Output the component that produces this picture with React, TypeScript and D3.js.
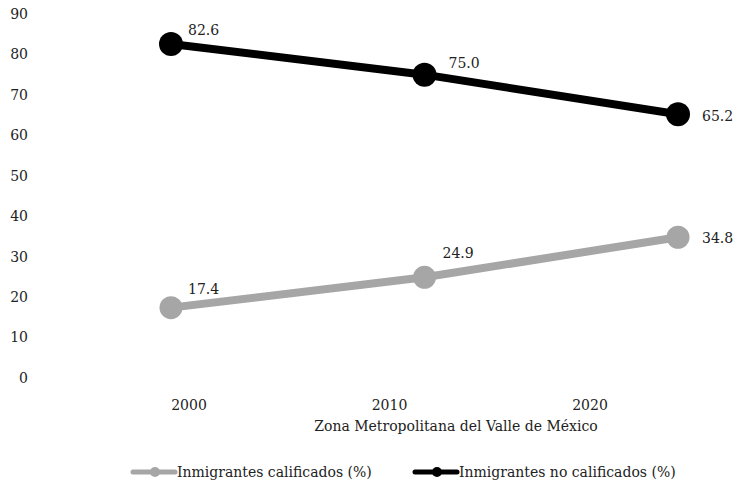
import React, { useRef, useEffect } from 'react';
import * as d3 from 'd3';

const years = ['2000', '2010', '2020'];
const calificados = [17.4, 24.9, 34.8];
const noCalificados = [82.6, 75.0, 65.2];
const yTicks = [0, 10, 20, 30, 40, 50, 60, 70, 80, 90];
const seriesNames = ['Inmigrantes calificados (%)', 'Inmigrantes no calificados (%)'];
const axisTitle = 'Zona Metropolitana del Valle de México';

const W = 735;
const H = 484;
const FONT = '"DejaVu Serif", "Liberation Serif", serif';

const App: React.FC = () => {
  const svgRef = useRef<SVGSVGElement>(null);

  useEffect(() => {
    if (!svgRef.current) return;
    const svg = d3.select(svgRef.current);
    svg.selectAll('*').remove();

    const y = d3.scaleLinear().domain([0, 90]).range([378, 14]);
    // points and category labels are not aligned in the original
    const xPts = d3.scalePoint<string>().domain(years).range([171, 678]);
    const xLbl = d3.scalePoint<string>().domain(years).range([189, 590]);

    // y tick labels
    svg
      .append('g')
      .selectAll('text')
      .data(yTicks)
      .join('text')
      .attr('x', 28)
      .attr('y', (d) => y(d))
      .attr('dy', '0.35em')
      .attr('text-anchor', 'end')
      .attr('font-family', FONT)
      .attr('font-size', 14)
      .attr('fill', '#222')
      .text((d) => d);

    // x category labels
    svg
      .append('g')
      .selectAll('text')
      .data(years)
      .join('text')
      .attr('x', (d) => xLbl(d)!)
      .attr('y', 410)
      .attr('text-anchor', 'middle')
      .attr('font-family', FONT)
      .attr('font-size', 14)
      .attr('fill', '#222')
      .text((d) => d);

    svg
      .append('text')
      .attr('x', 456)
      .attr('y', 431)
      .attr('text-anchor', 'middle')
      .attr('font-family', FONT)
      .attr('font-size', 14)
      .attr('fill', '#222')
      .text(axisTitle);

    // label offsets (dx, dy) were placed by hand in the original
    const series = [
      { values: calificados, color: '#a6a6a6', r: 11.5, offs: [[17, -19], [18, -24], [24, 1]] },
      { values: noCalificados, color: '#000000', r: 12, offs: [[17, -14], [24, -12], [24, 2]] },
    ];

    const line = d3
      .line<number>()
      .x((_, i) => xPts(years[i])!)
      .y((d) => y(d));

    series.forEach((s) => {
      const g = svg.append('g');
      g.append('path')
        .attr('d', line(s.values)!)
        .attr('fill', 'none')
        .attr('stroke', s.color)
        .attr('stroke-width', 8)
        .attr('stroke-linecap', 'round');
      g.selectAll('circle')
        .data(s.values)
        .join('circle')
        .attr('cx', (_, i) => xPts(years[i])!)
        .attr('cy', (d) => y(d))
        .attr('r', s.r)
        .attr('fill', s.color);
      g.selectAll('text')
        .data(s.values)
        .join('text')
        .attr('x', (_, i) => xPts(years[i])! + s.offs[i][0])
        .attr('y', (d, i) => y(d) + s.offs[i][1])
        .attr('dy', '0.35em')
        .attr('font-family', FONT)
        .attr('font-size', 14)
        .attr('fill', '#222')
        .text((d) => d.toFixed(1));
    });

    // legend
    const legend = svg.append('g').attr('transform', 'translate(0, 472)');
    const legendX = [133, 415];
    series.forEach((s, i) => {
      const lx = legendX[i];
      legend
        .append('line')
        .attr('x1', lx)
        .attr('x2', lx + 42)
        .attr('y1', 0)
        .attr('y2', 0)
        .attr('stroke', s.color)
        .attr('stroke-width', 5)
        .attr('stroke-linecap', 'round');
      legend
        .append('circle')
        .attr('cx', lx + 22)
        .attr('cy', 0)
        .attr('r', 5)
        .attr('fill', s.color);
      legend
        .append('text')
        .attr('x', lx + 44)
        .attr('y', 0)
        .attr('dy', '0.35em')
        .attr('font-family', FONT)
        .attr('font-size', 14)
        .attr('fill', '#222')
        .text(seriesNames[i]);
    });
  }, []);

  return (
    <svg
      ref={svgRef}
      width={W}
      height={H}
      style={{ position: 'absolute', left: 0, top: 0, background: '#fff' }}
    />
  );
};

export default App;
